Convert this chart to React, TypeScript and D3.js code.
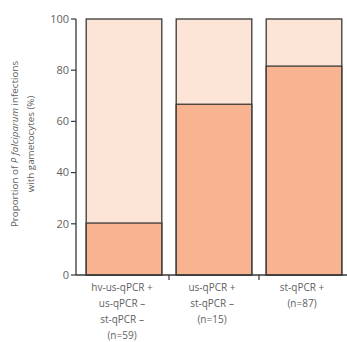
import React from "react";
import * as d3 from "d3";

const categories = ["g1", "g2", "g3"];
const labelLines = [
  ["hv-us-qPCR +", "us-qPCR –", "st-qPCR –", "(n=59)"],
  ["us-qPCR +", "st-qPCR –", "(n=15)"],
  ["st-qPCR +", "(n=87)"],
];
const gametocytePct = [20.3, 66.7, 81.6];
const yTicks = [0, 20, 40, 60, 80, 100];

const W = 347;
const H = 342;
const FONT = "'Open Sans', 'Noto Sans', sans-serif";

export default function App() {
  const y = d3.scaleLinear().domain([0, 100]).range([275, 19]);
  const x = d3
    .scaleBand<string>()
    .domain(categories)
    .range([79, 349])
    .paddingInner(0.16)
    .paddingOuter(0.08);
  const step = x.step();
  const bw = x.bandwidth();
  const axisX = 76;
  const dark = "#f8b390";
  const light = "#fce5d7";
  const stroke = "#383838";
  const textCol = "#5f5f5f";

  const boundaries = categories.slice(0, -1).map((c) => (x(c) as number) + bw + (step - bw) / 2);

  return (
    <svg
      width={W}
      height={H}
      style={{ position: "absolute", left: 0, top: 0, background: "#fff" }}
    >
      {categories.map((c, i) => {
        const x0 = x(c) as number;
        return (
          <g key={c}>
            <rect x={x0} y={y(100)} width={bw} height={y(0) - y(100)} fill={light} stroke={stroke} strokeWidth={1.3} />
            <rect
              x={x0}
              y={y(gametocytePct[i])}
              width={bw}
              height={y(0) - y(gametocytePct[i])}
              fill={dark}
              stroke={stroke}
              strokeWidth={1.3}
            />
          </g>
        );
      })}
      <line x1={axisX} x2={axisX} y1={y(100)} y2={y(0)} stroke={stroke} strokeWidth={1.3} />
      {yTicks.map((t) => (
        <g key={t}>
          <line x1={axisX - 5} x2={axisX} y1={y(t)} y2={y(t)} stroke={stroke} strokeWidth={1.2} />
          <text
            x={axisX - 7}
            y={y(t)}
            dy="0.35em"
            textAnchor="end"
            fontSize={11}
            fontFamily={FONT}
            fill={textCol}
          >
            {t}
          </text>
        </g>
      ))}
      <line x1={axisX} x2={W} y1={y(0)} y2={y(0)} stroke={stroke} strokeWidth={1.3} />
      {boundaries.map((b, i) => (
        <line key={i} x1={b} x2={b} y1={y(0)} y2={y(0) + 5} stroke={stroke} strokeWidth={1.2} />
      ))}
      {categories.map((c, i) => {
        const cx = (x(c) as number) + bw / 2 - 2;
        return (
          <text key={c} textAnchor="middle" fontSize={10} fontFamily={FONT} fill={textCol}>
            {labelLines[i].map((l, j) => (
              <tspan key={j} x={cx} y={291 + j * 16}>
                {l}
              </tspan>
            ))}
          </text>
        );
      })}
      <text
        transform={`translate(18, 144) rotate(-90)`}
        textAnchor="middle"
        fontSize={9.8}
        fontFamily={FONT}
        fill={textCol}
      >
        <tspan x={0} y={0}>
          Proportion of <tspan fontStyle="italic">P falciparum</tspan> infections
        </tspan>
        <tspan x={0} y={16}>
          with gametocytes (%)
        </tspan>
      </text>
    </svg>
  );
}
